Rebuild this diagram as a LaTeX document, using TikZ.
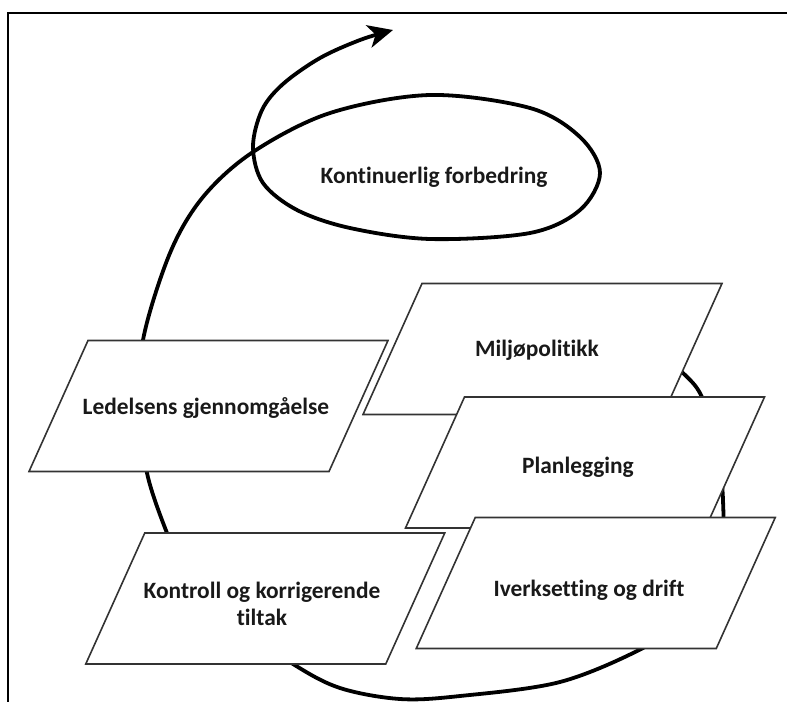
\documentclass[tikz,border=0pt]{standalone}
\usepackage{fontspec}
\setmainfont{Carlito}[Ligatures=NoCommon]
\usetikzlibrary{arrows.meta,calc}
\newcommand\pgbox[2]{%
  \coordinate (#1) at #2;
  \path[boxline] ($(#1)+(-120.5,65.5)$) -- ++(300,0) -- ++(-59,-131) -- ++(-300,0) -- cycle;
}
\begin{document}
\begin{tikzpicture}[x=1pt,y=1pt,
  spiral/.style={line width=3.8pt, line cap=round, -{Stealth[length=25pt,width=23pt,inset=7pt]}},
  boxline/.style={draw=black!80, line width=1.6pt, fill=white, line join=miter},
  lbl/.style={font=\bfseries\fontsize{23.4}{27}\selectfont, align=center, text=black!90},
  frame/.style={line width=2.5pt}]
\useasboundingbox (0,0) rectangle (787,-702);
\draw[frame] (787,-13) -- (8,-13) -- (8,-702);
% spiral
\draw[spiral] plot[smooth, tension=0.55] coordinates {
 (630,-328) (683,-373) (702,-397) (716,-440) (723,-500) (720,-560) (690,-615)
 (643,-648) (560,-682) (460,-696) (400,-699) (340,-688) (293,-664) (230,-620)
 (185,-570) (167,-533) (147,-473) (141,-410) (143,-340) (170,-253) (203,-197)
 (253,-152) (330,-113) (430,-95) (530,-108) (580,-137) (600,-173) (580,-210)
 (530,-233) (430,-239) (350,-228) (297,-210) (263,-183) (253,-147) (262,-110)
 (283,-84) (320,-58) (360,-40) (393,-30)};
% boxes
\pgbox{led}{(208.5,-406)}
\node[lbl] (ledt) at (206,-408) {Ledelsens gjennomgåelse};
\pgbox{mil}{(542.5,-349)}
\node[lbl] (milt) at (537,-350) {Miljøpolitikk};
\pgbox{pla}{(585,-462.5)}
\node[lbl] (plat) at (578,-467) {Planlegging};
\pgbox{ive}{(595.75,-583)}
\node[lbl] (ivet) at (589,-590) {Iverksetting og drift};
\pgbox{kon}{(265.25,-598.5)}
\node[lbl] (kont) at (262,-603.5) {Kontroll og korrigerende\\tiltak};
\node[lbl] (kf) at (434,-177) {Kontinuerlig forbedring};
\end{tikzpicture}
\end{document}
